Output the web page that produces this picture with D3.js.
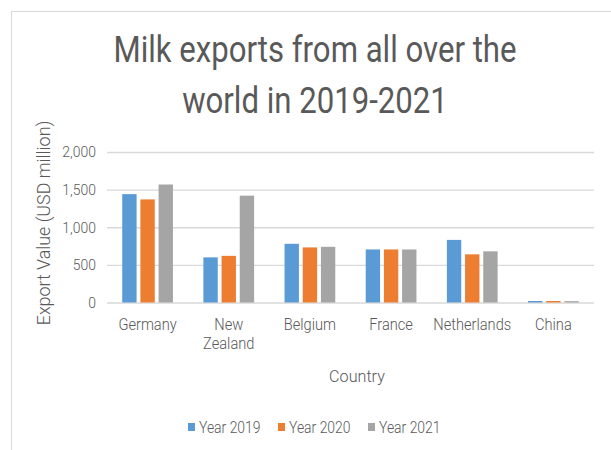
<!DOCTYPE html>
<html>
<head>
<meta charset="utf-8">
<script src="https://cdn.jsdelivr.net/npm/d3@7"></script>
<style>
	body { margin: 0; background: #fff; }
	svg { display: block; }
	text { font-family: Roboto, "Noto Sans", sans-serif; fill: #595959; }
	.light { font-weight: 300; }
</style>
</head>
<body>
<div id="chart"></div>
<script>
const countries = ['Germany', 'New Zealand', 'Belgium', 'France', 'Netherlands', 'China']
const seriesNames = ['Year 2019', 'Year 2020', 'Year 2021']
const year2019 = [1440, 600, 780, 705, 832, 20]
const year2020 = [1370, 620, 732, 705, 640, 20]
const year2021 = [1568, 1420, 740, 705, 680, 18]
const yTicks = [0, 500, 1000, 1500, 2000]
const titleLines = ['Milk exports from all over the', 'world in 2019-2021']
const xTitle = 'Country'
const yTitle = 'Export Value (USD million)'

const COLORS = ['#5B9BD5', '#ED7D31', '#A5A5A5']
const GRID = '#D9D9D9'

const width = 611
const height = 450
const plot = { left: 107, right: 594, top: 152, bottom: 302.5 }

const svg = d3.select('#chart')
	.append('svg')
		.attr('width', width)
		.attr('height', height)

// squeezes text horizontally, the source font is a narrow one
const squeeze = (sel, k) => sel.each(function () {
	const w = this.getComputedTextLength()
	d3.select(this).attr('textLength', w * k).attr('lengthAdjust', 'spacingAndGlyphs')
})

// chart frame (right and bottom edges fall outside the picture)
svg.append('rect')
	.attr('x', 11.5).attr('y', 11.5)
	.attr('width', 700).attr('height', 500)
	.attr('fill', 'none')
	.attr('stroke', GRID)

const series = [year2019, year2020, year2021]
const rows = countries.map((c, i) => ({ country: c, values: series.map((s, j) => ({ key: seriesNames[j], value: s[i] })) }))

const x0 = d3.scaleBand()
	.domain(countries)
	.range([plot.left, plot.right])
	.paddingInner(0.375)
	.paddingOuter(0.1875)

const x1 = d3.scaleBand()
	.domain(seriesNames)
	.range([0, x0.bandwidth()])
	.paddingInner(0.21)

const y = d3.scaleLinear()
	.domain([0, 2000])
	.range([plot.bottom, plot.top])

const color = d3.scaleOrdinal().domain(seriesNames).range(COLORS)

// gridlines and tick labels
const yAxis = svg.append('g')
	.attr('transform', `translate(${plot.left},0)`)
	.call(d3.axisLeft(y).tickValues(yTicks).tickSize(-(plot.right - plot.left)).tickPadding(11).tickFormat(d3.format(',')))
yAxis.select('.domain').remove()
yAxis.selectAll('.tick line').attr('stroke', GRID).attr('stroke-width', 1.4)
yAxis.selectAll('.tick text')
	.attr('class', 'light')
	.style('font-size', '15px')
	.attr('fill', '#595959')
	.call(squeeze, 0.93)

// bars
svg.append('g')
	.selectAll('g')
	.data(rows)
	.join('g')
		.attr('transform', d => `translate(${x0(d.country)},0)`)
	.selectAll('rect')
	.data(d => d.values)
	.join('rect')
		.attr('x', d => x1(d.key))
		.attr('y', d => y(d.value))
		.attr('width', x1.bandwidth())
		.attr('height', d => y(0) - y(d.value))
		.attr('fill', d => color(d.key))

// category labels, wrapped when wider than the band step
const catLabels = svg.append('g')
	.selectAll('text')
	.data(countries)
	.join('text')
		.attr('class', 'light')
		.attr('x', d => x0(d) + x0.bandwidth() / 2)
		.attr('y', 330)
		.attr('text-anchor', 'middle')
		.style('font-size', '17px')
		.text(d => d)
catLabels.each(function (d) {
	const t = d3.select(this)
	if (this.getComputedTextLength() * 0.86 > x0.step() && d.includes(' ')) {
		const words = d.split(' ')
		t.text(null)
		words.forEach((w, i) => {
			t.append('tspan')
				.attr('x', x0(d) + x0.bandwidth() / 2)
				.attr('dy', i === 0 ? 0 : 18.5)
				.text(w)
		})
	}
})
catLabels.selectAll('tspan').call(squeeze, 0.86)
catLabels.filter(function () { return this.childElementCount === 0 }).call(squeeze, 0.86)

// axis titles
svg.append('text')
	.attr('class', 'light')
	.attr('x', 357)
	.attr('y', 382)
	.attr('text-anchor', 'middle')
	.style('font-size', '17px')
	.text(xTitle)
	.call(squeeze, 0.95)

svg.append('text')
	.attr('class', 'light')
	.attr('transform', 'translate(50,223) rotate(-90)')
	.attr('text-anchor', 'middle')
	.style('font-size', '19px')
	.text(yTitle)
	.call(squeeze, 0.94)

// title
svg.append('g')
	.selectAll('text')
	.data(titleLines)
	.join('text')
		.attr('x', 315)
		.attr('y', (d, i) => 62 + i * 51)
		.attr('text-anchor', 'middle')
		.style('font-size', '36px')
		.text(d => d)
		.call(squeeze, 0.865)

// legend
const legendX = [188, 278, 368]
const legend = svg.append('g')
	.selectAll('g')
	.data(seriesNames)
	.join('g')
		.attr('transform', (d, i) => `translate(${legendX[i]},427)`)
legend.append('rect')
	.attr('x', 0).attr('y', -4)
	.attr('width', 7).attr('height', 8)
	.attr('fill', d => color(d))
legend.append('text')
	.attr('class', 'light')
	.attr('x', 11)
	.attr('y', 6)
	.style('font-size', '16px')
	.text(d => d)
	.call(squeeze, 0.87)
</script>
</body>
</html>
